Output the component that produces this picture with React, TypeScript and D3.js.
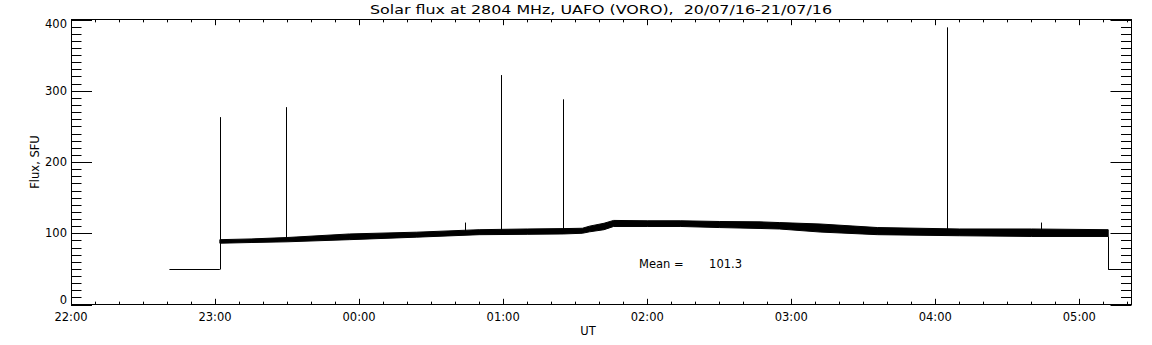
import React from "react";
import * as d3 from "d3";

// ---- data (minutes after 2016-07-20 22:00 UT) ----
const title = "Solar flux at 2804 MHz, UAFO (VORO),  20/07/16-21/07/16";
const yTickValues = [0, 100, 200, 300, 400];
const yTickLabels = ["0", "100", "200", "300", "400"];
const hourTickLabels = ["22:00", "23:00", "00:00", "01:00", "02:00", "03:00", "04:00", "05:00"];

// offline (calibration) level segments
const offlineStart = [41, 432];
const offlineEnd = [62, 441.5];
const offlineLevel = [50, 50];

// noisy flux band envelope
const bandMin = [62, 75, 90, 116, 144, 170, 190, 205, 213, 216, 222, 226, 240, 254, 270, 287, 295, 312, 336, 370, 400, 432];
const bandHigh = [91, 92, 94, 99, 101.5, 105, 106, 106.5, 107, 110, 114, 118, 117.5, 117.5, 116.5, 116, 115, 113, 108, 106, 106, 105];
const bandLow = [86, 87, 88, 91, 94.5, 98, 98.5, 99, 100, 102, 105, 109.5, 109.5, 109.5, 108, 106.7, 106, 101.7, 98, 96.5, 95.5, 95.5];

// bursts / spikes
const spikeMin = [62, 89.7, 164, 179, 205, 364.9, 404];
const spikeTop = [263, 277, 115, 322, 288, 389, 115];
const spikeBase = [50, 91, 100, 102, 103, 101, 100];

const meanLabel = "Mean =";
const meanValue = "101.3";

const START = Date.UTC(2016, 6, 20, 22, 0);
const toDate = (m: number) => new Date(START + m * 60000);

const W = 1152, H = 345;
const L = 71, R = 1131, T = 19.5, B = 304.5;

export default function App() {
  const x = d3.scaleUtc().domain([toDate(0), toDate(441.5)]).range([L, R]);
  const y = d3.scaleLinear().domain([0, 400]).range([B, T]);

  const minorX = x.ticks(d3.utcMinute.every(10) as any);
  const majorX = x.ticks(d3.utcHour.every(1) as any);
  const minorY = d3.range(0, 401, 10);

  const band = bandMin.map((m, i) => ({ m, lo: bandLow[i], hi: bandHigh[i] }));
  const area = d3
    .area<{ m: number; lo: number; hi: number }>()
    .x((d) => x(toDate(d.m)))
    .y0((d) => y(d.lo))
    .y1((d) => y(d.hi));

  const font = "'DejaVu Sans', sans-serif";
  const xlen = 5.7, xminor = 2.85, ylen = 21, yminor = 10.5;

  const clampLabelY = (v: number) => Math.min(Math.max(y(v), T + 4), B - 5);

  return (
    <svg
      width={W}
      height={H}
      style={{ position: "absolute", left: 0, top: 0, background: "#fff" }}
      fontFamily={font}
    >
      <rect x={0} y={0} width={W} height={H} fill="#fff" />
      <defs>
        <clipPath id="plot">
          <rect x={L} y={T} width={R - L} height={B - T} />
        </clipPath>
      </defs>

      {/* title */}
      <text
        x={(L + R) / 2}
        y={14}
        fontSize={13}
        textAnchor="middle"
        textLength={462}
        lengthAdjust="spacingAndGlyphs"
        style={{ whiteSpace: "pre" }}
      >
        {title}
      </text>

      {/* data */}
      <g clipPath="url(#plot)" stroke="#000" strokeWidth={1} fill="none">
        {offlineStart.map((s, i) => (
          <line
            key={"off" + i}
            x1={x(toDate(s))}
            x2={x(toDate(offlineEnd[i]))}
            y1={Math.round(y(offlineLevel[i])) + 0.5}
            y2={Math.round(y(offlineLevel[i])) + 0.5}
          />
        ))}
        <path d={area(band) || ""} fill="#000" stroke="#000" strokeWidth={1} />
        {/* drop to offline level at end */}
        <line
          x1={Math.round(x(toDate(offlineStart[1]))) + 0.5}
          x2={Math.round(x(toDate(offlineStart[1]))) + 0.5}
          y1={y(bandLow[bandLow.length - 1])}
          y2={Math.round(y(offlineLevel[1])) + 0.5}
        />
        {spikeMin.map((m, i) => (
          <line
            key={"sp" + i}
            x1={Math.round(x(toDate(m))) + 0.5}
            x2={Math.round(x(toDate(m))) + 0.5}
            y1={Math.round(y(spikeBase[i])) + 0.5}
            y2={y(spikeTop[i])}
          />
        ))}
      </g>

      {/* frame */}
      <rect x={L + 0.5} y={T} width={R - L} height={B - T} fill="none" stroke="#000" strokeWidth={1} />

      {/* ticks */}
      <g stroke="#000" strokeWidth={1}>
        {minorX.map((d, i) => {
          const xx = Math.round(x(d)) + 0.5;
          const major = d.getUTCMinutes() === 0;
          const len = major ? xlen : xminor;
          return (
            <g key={"xt" + i}>
              <line x1={xx} x2={xx} y1={B} y2={B - len} />
              <line x1={xx} x2={xx} y1={T} y2={T + len} />
            </g>
          );
        })}
        {minorY.map((v, i) => {
          const yy = Math.round(y(v)) + 0.5;
          const major = v % 100 === 0;
          const len = major ? ylen : yminor;
          return (
            <g key={"yt" + i}>
              <line x1={L} x2={L + len} y1={yy} y2={yy} />
              <line x1={R + 0.5} x2={R + 0.5 - len} y1={yy} y2={yy} />
            </g>
          );
        })}
      </g>

      {/* x tick labels */}
      <g fontSize={11.5} textAnchor="middle" fill="#000">
        {majorX.map((d, i) => (
          <text key={"xl" + i} x={x(d)} y={321}>
            {hourTickLabels[i]}
          </text>
        ))}
      </g>

      {/* y tick labels */}
      <g fontSize={11.5} textAnchor="end" fill="#000">
        {yTickValues.map((v, i) => (
          <text key={"yl" + i} x={67} y={clampLabelY(v)} dy="0.36em">
            {yTickLabels[i]}
          </text>
        ))}
      </g>

      {/* axis titles */}
      <text x={588} y={335} fontSize={11.5} textAnchor="middle">UT</text>
      <text
        transform={`translate(39,${(T + B) / 2}) rotate(-90)`}
        fontSize={11.5}
        textAnchor="middle"
      >
        Flux, SFU
      </text>

      <text x={639} y={267.5} fontSize={11.5}>
        {meanLabel}
      </text>
      <text x={742} y={267.5} fontSize={11.5} textAnchor="end">
        {meanValue}
      </text>
    </svg>
  );
}
